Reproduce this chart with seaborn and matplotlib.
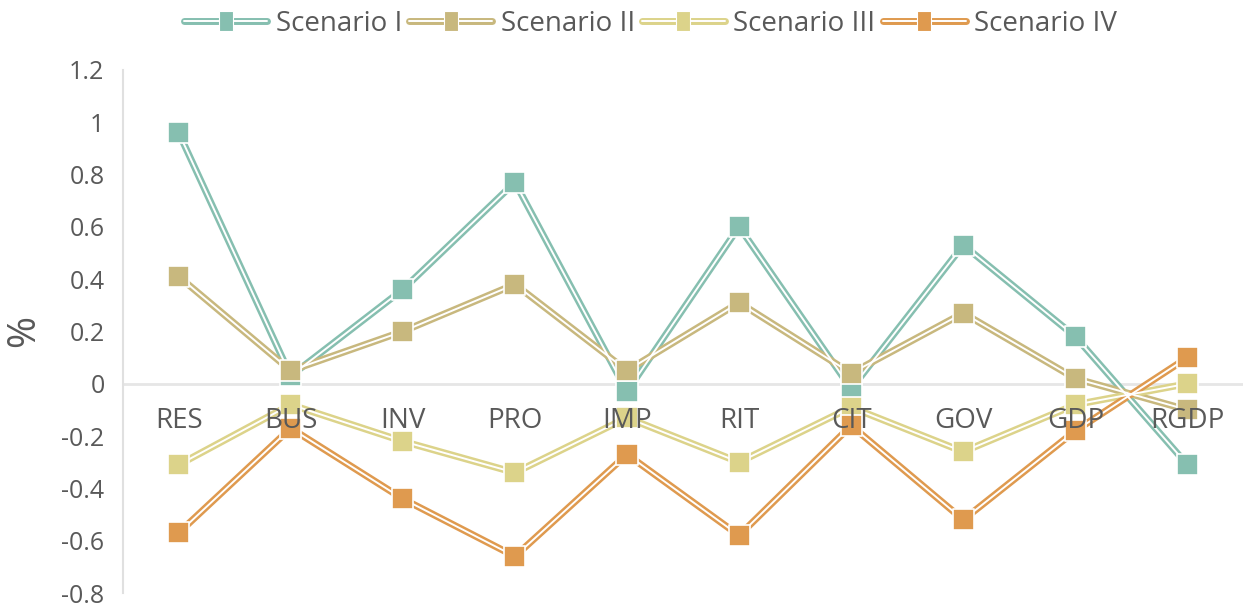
import matplotlib
matplotlib.use("Agg")
import matplotlib.pyplot as plt
import matplotlib.patheffects as pe
from matplotlib.lines import Line2D
import pandas as pd
import seaborn as sns

categories = ["RES", "BUS", "INV", "PRO", "IMP", "RIT", "CIT", "GOV", "GDP", "RGDP"]
scenario_1 = [0.96, 0.03, 0.36, 0.77, -0.03, 0.60, -0.02, 0.53, 0.18, -0.31]
scenario_2 = [0.41, 0.05, 0.20, 0.38, 0.05, 0.31, 0.04, 0.27, 0.02, -0.10]
scenario_3 = [-0.31, -0.08, -0.22, -0.34, -0.13, -0.30, -0.09, -0.26, -0.08, 0.00]
scenario_4 = [-0.57, -0.17, -0.44, -0.66, -0.27, -0.58, -0.16, -0.52, -0.18, 0.10]
series_names = ["Scenario I", "Scenario II", "Scenario III", "Scenario IV"]
colors = ["#86bfb0", "#c8b87e", "#dcd38a", "#df9a4f"]

rows = []
for name, vals in zip(series_names, [scenario_1, scenario_2, scenario_3, scenario_4]):
    for cat, v in zip(categories, vals):
        rows.append({"category": cat, "value": v, "scenario": name})
df = pd.DataFrame(rows)

sns.set_style("white")
plt.rcParams['font.family'] = ['Open Sans', 'DejaVu Sans']
text_color = "#595959"

fig, ax = plt.subplots(figsize=(12.51, 6.12), dpi=100)
fig.subplots_adjust(left=0.098, right=0.994, top=0.886, bottom=0.031)

pal = dict(zip(series_names, colors))
white = dict(zip(series_names, ["white"] * 4))
ax.axhline(0, color="#e6e6e6", lw=2, zorder=0)

# double line: thick coloured line, thin white core
sns.lineplot(data=df, x="category", y="value", hue="scenario", palette=pal,
             lw=5, legend=False, ax=ax, zorder=2)
sns.lineplot(data=df, x="category", y="value", hue="scenario", palette=white,
             lw=1.4, legend=False, ax=ax, zorder=3)
sns.scatterplot(data=df, x="category", y="value", hue="scenario", palette=pal,
                marker="s", s=230, edgecolor="white", linewidth=1.2,
                legend=False, ax=ax, zorder=4)

ax.set_ylim(-0.8, 1.2)
ax.set_xlim(-0.5, 9.5)
ax.set_yticks([-0.8, -0.6, -0.4, -0.2, 0, 0.2, 0.4, 0.6, 0.8, 1, 1.2])
ax.set_yticklabels(["-0.8", "-0.6", "-0.4", "-0.2", "0", "0.2", "0.4", "0.6",
                    "0.8", "1", "1.2"])
ax.set_xlabel("")
ax.set_ylabel("%", fontsize=28, color=text_color)
ax.yaxis.set_label_coords(-0.071, 0.5)

for s in ["top", "right"]:
    ax.spines[s].set_visible(False)
ax.spines["left"].set_color("#e0e0e0")
ax.spines["left"].set_linewidth(1.5)
ax.spines["bottom"].set_position(("data", 0))
ax.spines["bottom"].set_visible(False)
ax.tick_params(axis="y", length=8, width=1.5, color="#e0e0e0",
               labelsize=18, labelcolor=text_color, pad=5)
ax.tick_params(axis="x", length=0, labelsize=20, labelcolor=text_color, pad=17)
ax.xaxis.set_zorder(10)

# legend keys: double line + upright rectangle marker
rect_marker = [(-0.65, -1), (0.65, -1), (0.65, 1), (-0.65, 1), (-0.65, -1)]
handles = []
for c in colors:
    line = Line2D([0], [0], color="white", lw=1.4,
                  path_effects=[pe.Stroke(linewidth=5, foreground=c), pe.Normal()])
    mark = Line2D([0], [0], linestyle="none", marker=rect_marker, markersize=15,
                  markerfacecolor=c, markeredgecolor="white", markeredgewidth=0.8)
    handles.append((line, mark))
fig.legend(handles, series_names, loc="upper center", bbox_to_anchor=(0.52, 1.025),
           ncol=4, frameon=False, fontsize=20, labelcolor=text_color,
           handlelength=3.0, handletextpad=0.3, columnspacing=0.25)

fig.savefig("out.png", dpi=100)
